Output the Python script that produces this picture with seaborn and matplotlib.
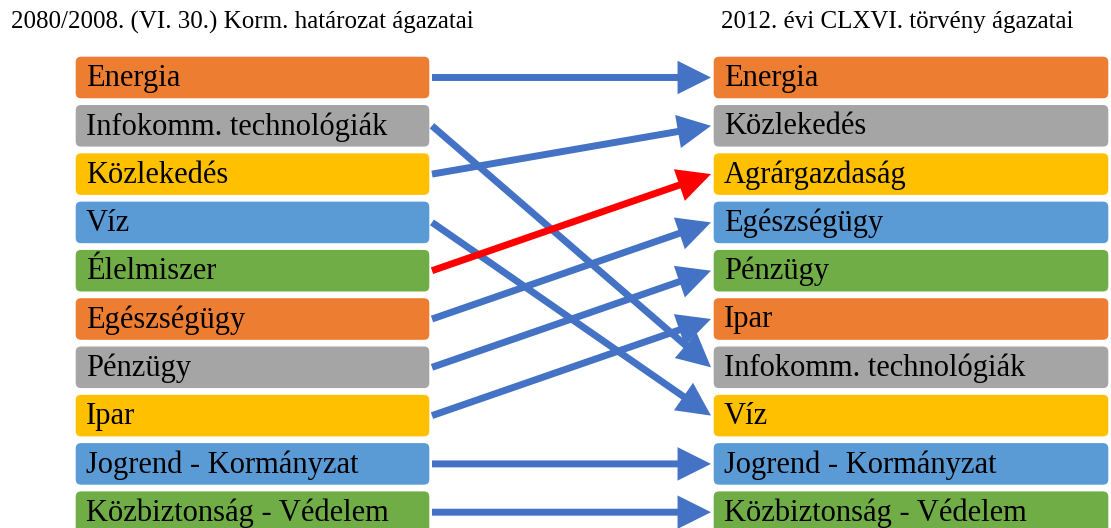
import seaborn as sns
import matplotlib.pyplot as plt
from matplotlib.patches import FancyBboxPatch

# sectors of the two regulations
left_title = '2080/2008. (VI. 30.) Korm. határozat ágazatai'
right_title = '2012. évi CLXVI. törvény ágazatai'
left_sectors = ['Energia', 'Infokomm. technológiák', 'Közlekedés', 'Víz', 'Élelmiszer',
                'Egészségügy', 'Pénzügy', 'Ipar', 'Jogrend - Kormányzat',
                'Közbiztonság - Védelem']
right_sectors = ['Energia', 'Közlekedés', 'Agrárgazdaság', 'Egészségügy', 'Pénzügy', 'Ipar',
                 'Infokomm. technológiák', 'Víz', 'Jogrend - Kormányzat',
                 'Közbiztonság - Védelem']
# which left sector goes to which right sector
link_targets = ['Energia', 'Infokomm. technológiák', 'Közlekedés', 'Víz', 'Agrárgazdaság',
                'Egészségügy', 'Pénzügy', 'Ipar', 'Jogrend - Kormányzat',
                'Közbiztonság - Védelem']
renamed = ['Élelmiszer']

box_colors = sns.color_palette(['#ED7D31', '#A5A5A5', '#FFC000', '#5B9BD5', '#70AD47'])
arrow_blue = '#4472C4'
arrow_red = '#FF0000'

sns.set_theme(style='white')
plt.rcParams['font.family'] = ['Liberation Serif', 'DejaVu Serif']
plt.rcParams['text.color'] = 'black'

fig = plt.figure(figsize=(11.11, 5.28), dpi=100)
ax = fig.add_axes([0, 0, 1, 1])
pitch = 48.3  # pixels per row
ax.set_xlim(0, 1111)
ax.set_ylim((528 - 77.5) / pitch, -77.5 / pitch)
ax.axis('off')

box_h = 0.89
cols = {'left': (75, 355), 'right': (713, 396)}


def draw_column(names, x0, w):
    for i, name in enumerate(names):
        c = box_colors[i % len(box_colors)]
        box = FancyBboxPatch((x0, i - box_h / 2), w, box_h,
                             boxstyle='round,pad=0,rounding_size=6',
                             mutation_aspect=1 / pitch, fc=c, ec='white', lw=1)
        ax.add_patch(box)
        ax.text(x0 + 11, i + 0.02, name, fontsize=22, va='center', ha='left', color='black')


draw_column(left_sectors, *cols['left'])
draw_column(right_sectors, *cols['right'])

title_y = (22 - 77.5) / pitch
ax.text(11, title_y, left_title, fontsize=18, va='center', ha='left', color='black')
ax.text(721, title_y, right_title, fontsize=18, va='center', ha='left', color='black')

x_start = cols['left'][0] + cols['left'][1] + 2
x_end = cols['right'][0] - 2
for i, (src, dst) in enumerate(zip(left_sectors, link_targets)):
    j = right_sectors.index(dst)
    color = arrow_red if src in renamed else arrow_blue
    ax.annotate('', xy=(x_end, j), xytext=(x_start, i),
                arrowprops=dict(arrowstyle='-|>,head_length=1.0,head_width=0.5',
                                mutation_scale=16, lw=5, color=color,
                                joinstyle='miter', capstyle='butt',
                                shrinkA=0, shrinkB=0))

fig.savefig('out.png', dpi=100)
